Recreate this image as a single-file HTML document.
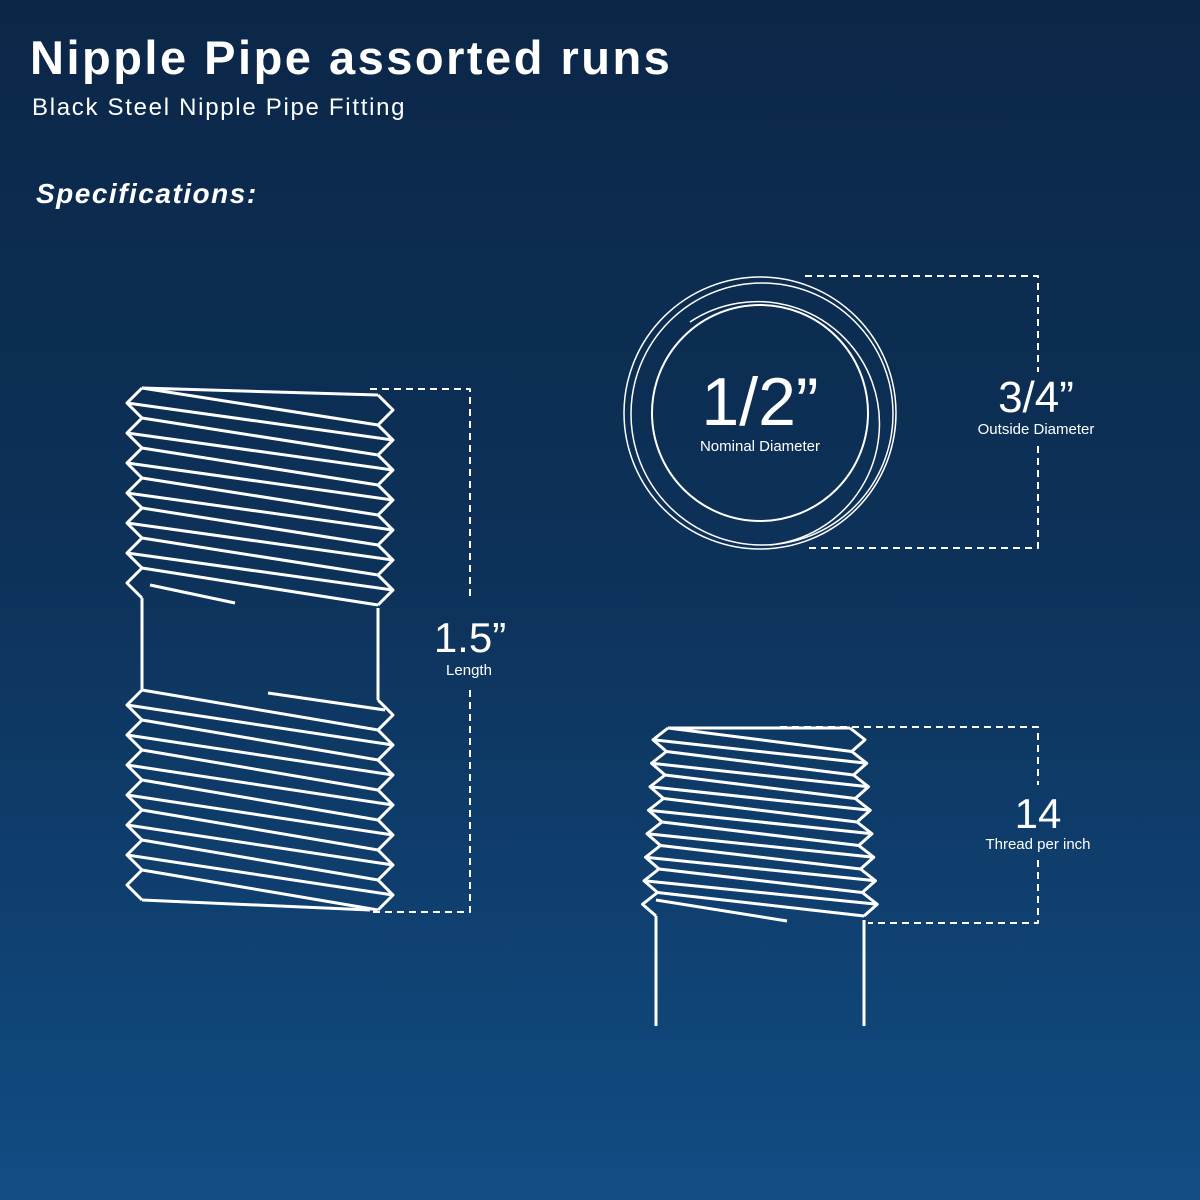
<!DOCTYPE html><html><head><meta charset="utf-8"><style>
html,body{margin:0;padding:0}
body{width:1200px;height:1200px;overflow:hidden;background:linear-gradient(180deg,#0b2748 0%,#0d3158 45%,#0f3f6f 75%,#124d84 100%);font-family:"Liberation Sans",sans-serif;color:#fff;position:relative}
.t{position:absolute;white-space:nowrap}
</style></head><body>
<div class="t" style="left:30px;top:30px;font-size:47px;font-weight:bold;letter-spacing:2.5px">Nipple Pipe assorted runs</div>
<div class="t" style="left:32px;top:94px;font-size:24px;letter-spacing:1.7px">Black Steel Nipple Pipe Fitting</div>
<div class="t" style="left:36px;top:178px;font-size:28px;font-weight:bold;font-style:italic;letter-spacing:1.5px">Specifications:</div>
<svg id="s" width="1200" height="1200" style="position:absolute;left:0;top:0" fill="none" stroke="#fff" stroke-width="3" stroke-linejoin="round">
<g stroke-width="2" stroke-dasharray="7,5">
<path d="M370 389H470V600M470 690V912H370"/>
<path d="M805 276H1038V372M1038 446V548H808"/>
<path d="M780 727H1038V785M1038 860V923H868"/>
</g>
<circle cx="760" cy="413" r="136" stroke-width="1.5"/>
<circle cx="762" cy="414" r="131" stroke-width="1.5"/>
<circle cx="760" cy="413" r="108" stroke-width="2"/>
<path d="M690 322 A122 122 0 1 1 770 545" stroke-width="1.5"/>
<text x="760" y="425" fill="#fff" stroke="none" font-size="68" text-anchor="middle" font-family="Liberation Sans">1/2”</text>
<text x="760" y="451" fill="#fff" stroke="none" font-size="15" text-anchor="middle" font-family="Liberation Sans">Nominal Diameter</text>
<text x="1036" y="412" fill="#fff" stroke="none" font-size="44" text-anchor="middle" font-family="Liberation Sans">3/4”</text>
<text x="1036" y="434" fill="#fff" stroke="none" font-size="15" text-anchor="middle" font-family="Liberation Sans">Outside Diameter</text>
<text x="470" y="652" fill="#fff" stroke="none" font-size="42" text-anchor="middle" font-family="Liberation Sans">1.5”</text>
<text x="469" y="675" fill="#fff" stroke="none" font-size="15" text-anchor="middle" font-family="Liberation Sans">Length</text>
<text x="1038" y="828" fill="#fff" stroke="none" font-size="42" text-anchor="middle" font-family="Liberation Sans">14</text>
<text x="1038" y="849" fill="#fff" stroke="none" font-size="15" text-anchor="middle" font-family="Liberation Sans">Thread per inch</text>
<g id="g"></g>
</svg>
<script>
var g=document.getElementById('g'),o='';
function L(a,b,c,d){o+='<line x1="'+a+'" y1="'+b+'" x2="'+c+'" y2="'+d+'"/>';}
function thread(lx0,ly,rx0,ry,n,p,s,taperL,taperR){
 var lp='',rp='';
 var LR=[],LC=[],RR=[],RC=[];
 for(var k=0;k<=n;k++){
  var t=k/n;
  var lr=lx0-taperL*t, lc=lr-15, rr=rx0+taperR*t, rc=rr+15;
  var y1=ly+p*k, y2=y1+p/2, ry1=ry+p*k, ry2=ry1+p/2;
  lp+=(k?' L':'M')+lr+' '+y1+(k<n?' L'+lc+' '+y2:'');
  rp+=(k?' L':'M')+rr+' '+ry1+(k<n?' L'+rc+' '+ry2:'');
  LR.push([lr,y1]);RR.push([rr,ry1]);
  if(k<n){LC.push([lc,y2]);RC.push([rc,ry2]);}
 }
 for(var k=0;k<LC.length;k++){
  var j=k+s; if(j<RC.length){L(LC[k][0],LC[k][1],RC[j][0],RC[j][1]);}
 }
 for(var k=0;k<LR.length;k++){
  var j=k+s; if(j<RR.length){L(LR[k][0],LR[k][1],RR[j][0],RR[j][1]);}
 }
 o+='<path d="'+lp+'"/><path d="'+rp+'"/>';
}
thread(142,388,378,395,7,30,1,0,0);
L(142,388,378,395);
o+='<path d="M142 598V690M378 608V700"/>';
L(150,585,235,603);
thread(142,690,378,700,7,30,1,0,0);
L(268,693,385,710);
L(142,900,370,910);
thread(668,728,850,728,8,23.5,1,12,14);
L(668,728,850,728);
L(656,900,787,921);
o+='<path d="M656 916V1026M864 920V1026"/>';
g.innerHTML=o;
</script>
</body></html>
